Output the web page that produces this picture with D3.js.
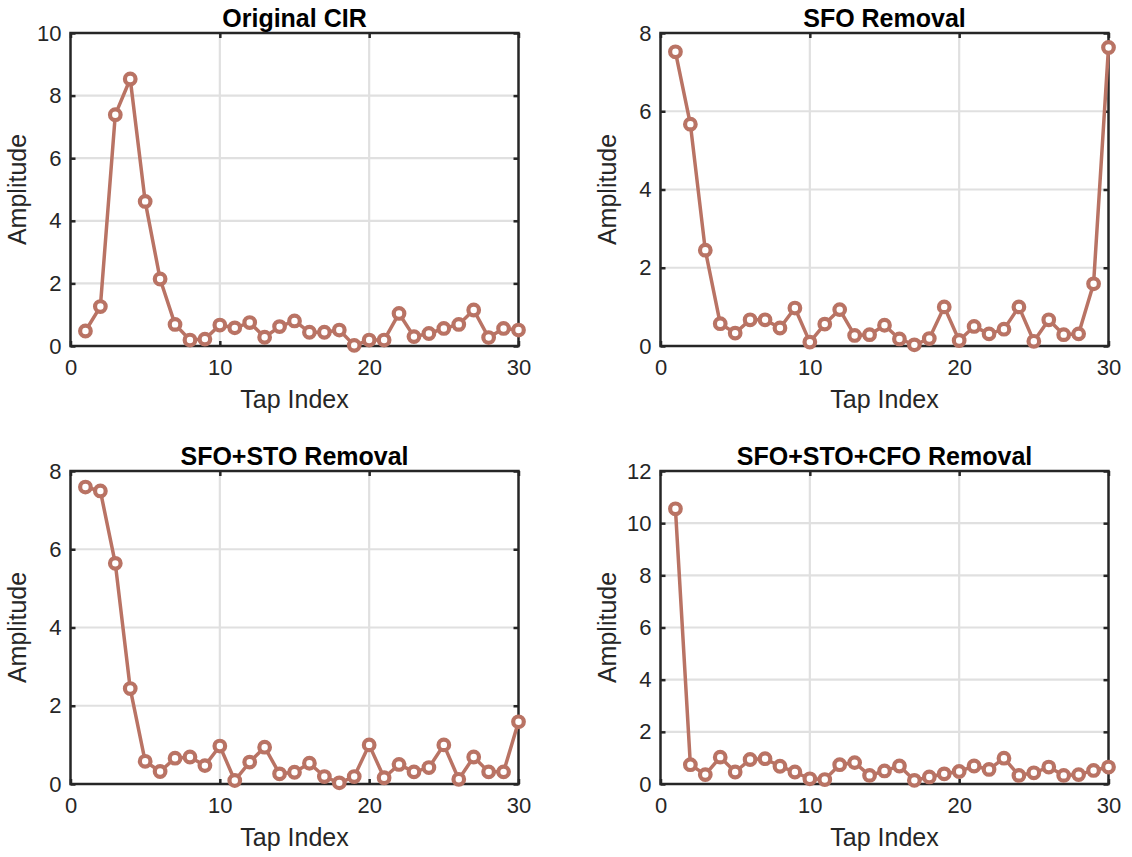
<!DOCTYPE html>
<html>
<head>
<meta charset="utf-8">
<script src="https://cdn.jsdelivr.net/npm/d3@7"></script>
<style>
  body { margin: 0; background: #fff; }
  svg { display: block; font-family: 'Liberation Sans', Arial, Helvetica, sans-serif; }
  .tick text { fill: #262626; }
</style>
</head>
<body>
<div id="chart"></div>
<script>
// tap indices 1..30
const taps = d3.range(1, 31);

const originalCIR = [0.48, 1.26, 7.39, 8.53, 4.62, 2.14, 0.69, 0.19, 0.22, 0.67,
  0.58, 0.75, 0.28, 0.62, 0.80, 0.44, 0.44, 0.51, 0.02, 0.19,
  0.19, 1.04, 0.30, 0.40, 0.56, 0.69, 1.15, 0.27, 0.56, 0.51];

const sfoRemoval = [7.52, 5.67, 2.45, 0.57, 0.33, 0.67, 0.67, 0.46, 0.97, 0.10,
  0.56, 0.93, 0.27, 0.29, 0.53, 0.18, 0.03, 0.19, 1.00, 0.14,
  0.50, 0.31, 0.43, 1.00, 0.12, 0.67, 0.29, 0.31, 1.59, 7.63];

const sfoStoRemoval = [7.59, 7.49, 5.64, 2.44, 0.58, 0.32, 0.66, 0.69, 0.47, 0.97,
  0.09, 0.56, 0.94, 0.26, 0.30, 0.53, 0.19, 0.03, 0.19, 1.00,
  0.16, 0.50, 0.31, 0.42, 1.00, 0.12, 0.69, 0.31, 0.31, 1.59];

const sfoStoCfoRemoval = [10.55, 0.74, 0.36, 1.03, 0.46, 0.94, 0.97, 0.68, 0.46, 0.20,
  0.17, 0.74, 0.82, 0.33, 0.50, 0.69, 0.14, 0.27, 0.39, 0.48,
  0.69, 0.56, 0.99, 0.33, 0.43, 0.65, 0.33, 0.36, 0.52, 0.65];

const titles = ['Original CIR', 'SFO Removal', 'SFO+STO Removal', 'SFO+STO+CFO Removal'];
const yMaxes = [10, 8, 8, 12];
const xTicks = [0, 10, 20, 30];
const yTickStep = 2;

const W = 1132;
const H = 857;
const lineColor = '#b97364';
const axisColor = '#262626';
const gridColor = '#e0e0e0';

const svg = d3.select('#chart')
  .append('svg')
  .attr('width', W)
  .attr('height', H);

const panels = [
  { data: originalCIR, left: 70.5, top: 33, w: 448, h: 313 },
  { data: sfoRemoval, left: 660.5, top: 33, w: 448, h: 313 },
  { data: sfoStoRemoval, left: 70.5, top: 471, w: 448, h: 313 },
  { data: sfoStoCfoRemoval, left: 660.5, top: 471, w: 448, h: 313 }
];

panels.forEach((p, k) => {
  const g = svg.append('g').attr('transform', `translate(${p.left},${p.top})`);

  const x = d3.scaleLinear().domain([0, 30]).range([0, p.w]);
  const y = d3.scaleLinear().domain([0, yMaxes[k]]).range([p.h, 0]);
  const yTicks = d3.range(0, yMaxes[k] + 0.001, yTickStep);

  // grid
  g.selectAll('.vgrid')
    .data(xTicks.slice(1, -1))
    .enter()
    .append('line')
    .attr('x1', d => x(d)).attr('x2', d => x(d))
    .attr('y1', 0).attr('y2', p.h)
    .attr('stroke', gridColor)
    .attr('stroke-width', 2.2);

  g.selectAll('.hgrid')
    .data(yTicks.slice(1, -1))
    .enter()
    .append('line')
    .attr('x1', 0).attr('x2', p.w)
    .attr('y1', d => y(d)).attr('y2', d => y(d))
    .attr('stroke', gridColor)
    .attr('stroke-width', 2.2);

  // inner ticks on all four sides
  const tickLen = 5;
  const xAxisB = d3.axisBottom(x).tickValues(xTicks).tickSize(-tickLen).tickPadding(13).tickFormat(d3.format('d'));
  const xAxisT = d3.axisTop(x).tickValues(xTicks).tickSize(-tickLen).tickFormat('');
  const yAxisL = d3.axisLeft(y).tickValues(yTicks).tickSize(-tickLen).tickPadding(9).tickFormat(d3.format('d'));
  const yAxisR = d3.axisRight(y).tickValues(yTicks).tickSize(-tickLen).tickFormat('');

  const styleAxis = sel => {
    sel.select('.domain').remove();
    sel.selectAll('.tick line').attr('stroke', axisColor).attr('stroke-width', 2.5);
    sel.selectAll('.tick text').attr('font-size', 22).attr('fill', axisColor);
  };

  g.append('g').attr('transform', `translate(0,${p.h})`).call(xAxisB).call(styleAxis);
  g.append('g').call(xAxisT).call(styleAxis);
  g.append('g').call(yAxisL).call(styleAxis);
  g.append('g').attr('transform', `translate(${p.w},0)`).call(yAxisR).call(styleAxis);

  // box
  g.append('rect')
    .attr('x', 0).attr('y', 0)
    .attr('width', p.w).attr('height', p.h)
    .attr('fill', 'none')
    .attr('stroke', axisColor)
    .attr('stroke-width', 2.5);

  // series
  const line = d3.line()
    .x((d, i) => x(taps[i]))
    .y(d => y(d));

  g.append('path')
    .datum(p.data)
    .attr('d', line)
    .attr('fill', 'none')
    .attr('stroke', lineColor)
    .attr('stroke-width', 3.5)
    .attr('stroke-linejoin', 'round');

  g.selectAll('.marker')
    .data(p.data)
    .enter()
    .append('circle')
    .attr('cx', (d, i) => x(taps[i]))
    .attr('cy', d => y(d))
    .attr('r', 5.3)
    .attr('fill', '#fff')
    .attr('stroke', lineColor)
    .attr('stroke-width', 4.2);

  // labels
  g.append('text')
    .attr('x', p.w / 2)
    .attr('y', -6)
    .attr('text-anchor', 'middle')
    .attr('font-size', 25)
    .attr('font-weight', 'bold')
    .attr('fill', '#000')
    .text(titles[k]);

  g.append('text')
    .attr('x', p.w / 2)
    .attr('y', p.h + 62)
    .attr('text-anchor', 'middle')
    .attr('font-size', 25)
    .attr('fill', axisColor)
    .text('Tap Index');

  g.append('text')
    .attr('transform', `translate(-45,${p.h / 2}) rotate(-90)`)
    .attr('text-anchor', 'middle')
    .attr('font-size', 25)
    .attr('fill', axisColor)
    .text('Amplitude');
});
</script>
</body>
</html>
